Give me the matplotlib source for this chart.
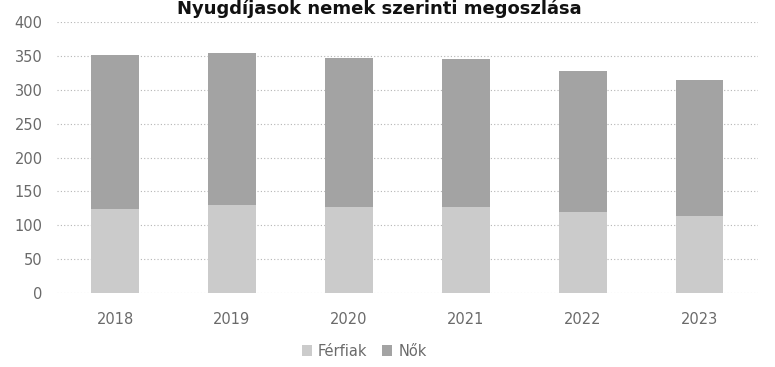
import matplotlib
matplotlib.use("Agg")
import matplotlib.pyplot as plt
import numpy as np

years = ["2018", "2019", "2020", "2021", "2022", "2023"]
ferfiak = [124, 130, 127, 127, 120, 114]
nok = [228, 225, 220, 219, 208, 201]
y_ticks = [0, 50, 100, 150, 200, 250, 300, 350, 400]

title = "Nyugdíjasok nemek szerinti megoszlása"

plt.rcParams["font.family"] = ["DejaVu Sans"]

fig = plt.figure(figsize=(7.75, 3.67), dpi=100)
ax = fig.add_axes([0.073, 0.2016, 0.905, 0.7384])

x = np.arange(len(years))
c_f = "#cbcbcb"
c_n = "#a3a3a3"
ax.bar(x, ferfiak, width=0.41, color=c_f, label="Férfiak", zorder=2)
ax.bar(x, nok, width=0.41, bottom=ferfiak, color=c_n, label="Nők", zorder=2)

ax.set_xlim(-0.5, len(years) - 0.5)
ax.set_ylim(0, 400)
ax.set_yticks(y_ticks)
ax.set_xticks(x)
ax.set_xticklabels(years)
ax.yaxis.grid(True, linestyle=(0, (1, 2)), color="#b5b5b5", linewidth=0.8, zorder=0)
ax.set_axisbelow(True)
for s in ax.spines.values():
    s.set_visible(False)
ax.tick_params(axis="both", length=0, colors="#6a6a6a", labelsize=10.5)
ax.tick_params(axis="x", pad=14)
ax.tick_params(axis="y", pad=10)

fig.text(0.49, 1.0, title, ha="center", va="top",
         fontsize=13, fontweight="bold", color="#111111")

leg = fig.legend(loc="center", bbox_to_anchor=(0.47, 1 - 351 / 367), ncol=2,
                 frameon=False, fontsize=10.5, handlelength=0.7, handleheight=0.7,
                 handletextpad=0.4, columnspacing=1.0)
for t in leg.get_texts():
    t.set_color("#6a6a6a")

fig.savefig("out.png", dpi=100)
